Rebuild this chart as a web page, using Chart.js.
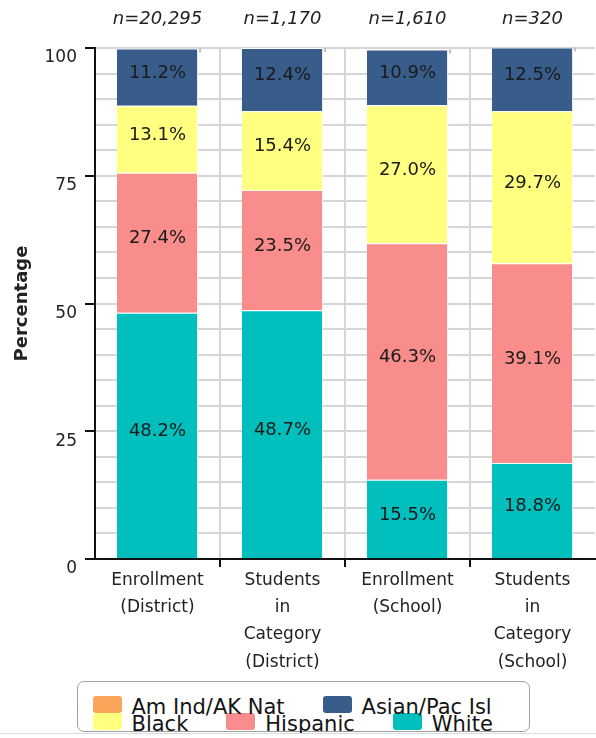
<!DOCTYPE html>
<html>
<head>
<meta charset="utf-8">
<title>Enrollment by ethnicity</title>
<script src="https://cdn.jsdelivr.net/npm/chart.js@4.4.0/dist/chart.umd.min.js"></script>
<style>
  html, body { margin: 0; padding: 0; background: #fff; overflow: hidden; }
  #wrap { position: relative; width: 596px; height: 733px; overflow: hidden; }
  #chart { position: absolute; left: 0; top: 0; }
  #legend {
    position: absolute; left: 77px; top: 681px; width: 453px; height: 51px;
    box-sizing: border-box; border: 1.5px solid #a0a0a0; border-radius: 7px;
    padding: 13.5px 0 0 14.5px; display: flex; flex-wrap: wrap; align-content: flex-start;
    column-gap: 38px;
    font: 21px "DejaVu Sans", Verdana, sans-serif; color: #141414;
  }
  .item { display: flex; height: 17px; line-height: 17px; white-space: nowrap; }
  .swatch { width: 29px; height: 17px; border-radius: 3px; margin-right: 10px; flex: none; }
  .item span { position: relative; top: 3px; }
  #rule { position: absolute; left: 0; top: 733px; width: 596px; height: 1px; background: #d8dce6; }
</style>
</head>
<body>
<div id="wrap">
  <canvas id="chart" width="596" height="675"></canvas>
  <div id="legend"></div>
</div>
<div id="rule"></div>
<script>
const categories = [
  ['Enrollment', '(District)'],
  ['Students', 'in', 'Category', '(District)'],
  ['Enrollment', '(School)'],
  ['Students', 'in', 'Category', '(School)']
];
const countLabels = ['n=20,295', 'n=1,170', 'n=1,610', 'n=320'];

// percent of students per group, bottom of the stack first
const white = [48.2, 48.7, 15.5, 18.8];
const hispanic = [27.4, 23.5, 46.3, 39.1];
const black = [13.1, 15.4, 27.0, 29.7];
const asianPacIsl = [11.2, 12.4, 10.9, 12.5];
const amIndAkNat = [0, 0, 0, 0];

const yLabelTicks = [0, 25, 50, 75, 100];

Chart.defaults.font.family = '"DejaVu Sans", Verdana, sans-serif';
Chart.defaults.color = '#222';

// percentages written in the middle of each segment
const valueLabels = {
  id: 'valueLabels',
  afterDatasetsDraw(chart) {
    const ctx = chart.ctx;
    ctx.save();
    ctx.font = '18px "DejaVu Sans", Verdana, sans-serif';
    ctx.fillStyle = '#1a1a1a';
    ctx.textAlign = 'center';
    ctx.textBaseline = 'middle';
    chart.data.datasets.forEach((ds, i) => {
      chart.getDatasetMeta(i).data.forEach((bar, j) => {
        const v = ds.data[j];
        if (v < 1) return;
        const p = bar.getProps(['x', 'y', 'base'], true);
        ctx.fillText(v.toFixed(1) + '%', p.x, (p.y + p.base) / 2 - 4);
      });
    });
    ctx.restore();
  }
};

// thin grey drop shadow on the right of every column
const barShadow = {
  id: 'barShadow',
  beforeDatasetsDraw(chart) {
    const ctx = chart.ctx;
    const metas = chart.getSortedVisibleDatasetMetas();
    ctx.save();
    ctx.fillStyle = '#bdbdbd';
    categories.forEach((c, j) => {
      let top = Infinity, right = 0, base = 0;
      metas.forEach(m => {
        const p = m.data[j].getProps(['x', 'y', 'base', 'width'], true);
        top = Math.min(top, p.y);
        right = p.x + p.width / 2;
        base = p.base;
      });
      ctx.fillRect(right + 1, top + 4, 2, base - top - 4);
    });
    ctx.restore();
  }
};

const barStyle = {
  xAxisID: 'x',
  barPercentage: 0.65,
  categoryPercentage: 1,
  borderColor: '#fff',
  borderWidth: { top: 1, right: 1 },
  borderSkipped: false
};

const chart = new Chart(document.getElementById('chart'), {
  type: 'bar',
  data: {
    labels: categories,
    datasets: [
      { label: 'White', data: white, backgroundColor: '#00bfbc', ...barStyle },
      { label: 'Hispanic', data: hispanic, backgroundColor: '#f98d8c', ...barStyle },
      { label: 'Black', data: black, backgroundColor: '#ffff80', ...barStyle },
      { label: 'Asian/Pac Isl', data: asianPacIsl, backgroundColor: '#385d8a', ...barStyle },
      { label: 'Am Ind/AK Nat', data: amIndAkNat, backgroundColor: '#f9a65a', ...barStyle }
    ]
  },
  options: {
    responsive: false,
    animation: false,
    layout: { padding: { left: 0, right: 1, top: 0, bottom: 0 } },
    plugins: {
      legend: { display: false },
      tooltip: { enabled: false }
    },
    scales: {
      x: {
        stacked: true,
        grid: {
          offset: true,
          lineWidth: 2,
          color: ctx => (ctx.index === undefined ? 'rgba(0,0,0,0)' : '#d6d6d6'),
          tickLength: 8,
          tickWidth: 2,
          tickColor: ctx => (ctx.index > 0 && ctx.index < categories.length ? '#111' : 'rgba(0,0,0,0)')
        },
        border: { color: '#111', width: 2 },
        ticks: {
          color: '#222',
          font: { size: 17, lineHeight: 1.6 },
          padding: 0,
          maxRotation: 0,
          autoSkip: false
        },
        afterFit: s => { s.height = 116; }
      },
      xTop: {
        type: 'category',
        position: 'top',
        labels: countLabels,
        offset: true,
        grid: { display: false, drawTicks: false },
        border: { display: false },
        ticks: { color: '#222', font: { size: 18, style: 'italic' }, padding: 18 },
        afterFit: s => { s.height = 48; }
      },
      y: {
        stacked: true,
        min: 0,
        max: 100,
        ticks: {
          stepSize: 5,
          autoSkip: false,
          labelOffset: 10,
          padding: 8,
          color: '#222',
          font: { size: 17 },
          callback: v => (yLabelTicks.includes(v) ? v : '')
        },
        grid: {
          color: '#d6d6d6',
          lineWidth: 2,
          tickLength: 10,
          tickWidth: 2,
          tickColor: ctx => (yLabelTicks.includes(ctx.tick && ctx.tick.value) ? '#111' : 'rgba(0,0,0,0)')
        },
        border: { color: '#111', width: 2 },
        title: {
          display: true,
          text: 'Percentage',
          color: '#222',
          font: { size: 18, weight: 'bold' },
          padding: { top: 12, bottom: 0 }
        },
        afterFit: s => { s.width = 95; }
      }
    }
  },
  plugins: [barShadow, valueLabels]
});

// legend box, listed alphabetically (top of the stack first)
const legendEl = document.getElementById('legend');
chart.data.datasets.slice().reverse().forEach(ds => {
  const item = document.createElement('div');
  item.className = 'item';
  const sw = document.createElement('div');
  sw.className = 'swatch';
  sw.style.background = ds.backgroundColor;
  const txt = document.createElement('span');
  txt.textContent = ds.label;
  item.appendChild(sw);
  item.appendChild(txt);
  legendEl.appendChild(item);
});
</script>
</body>
</html>
